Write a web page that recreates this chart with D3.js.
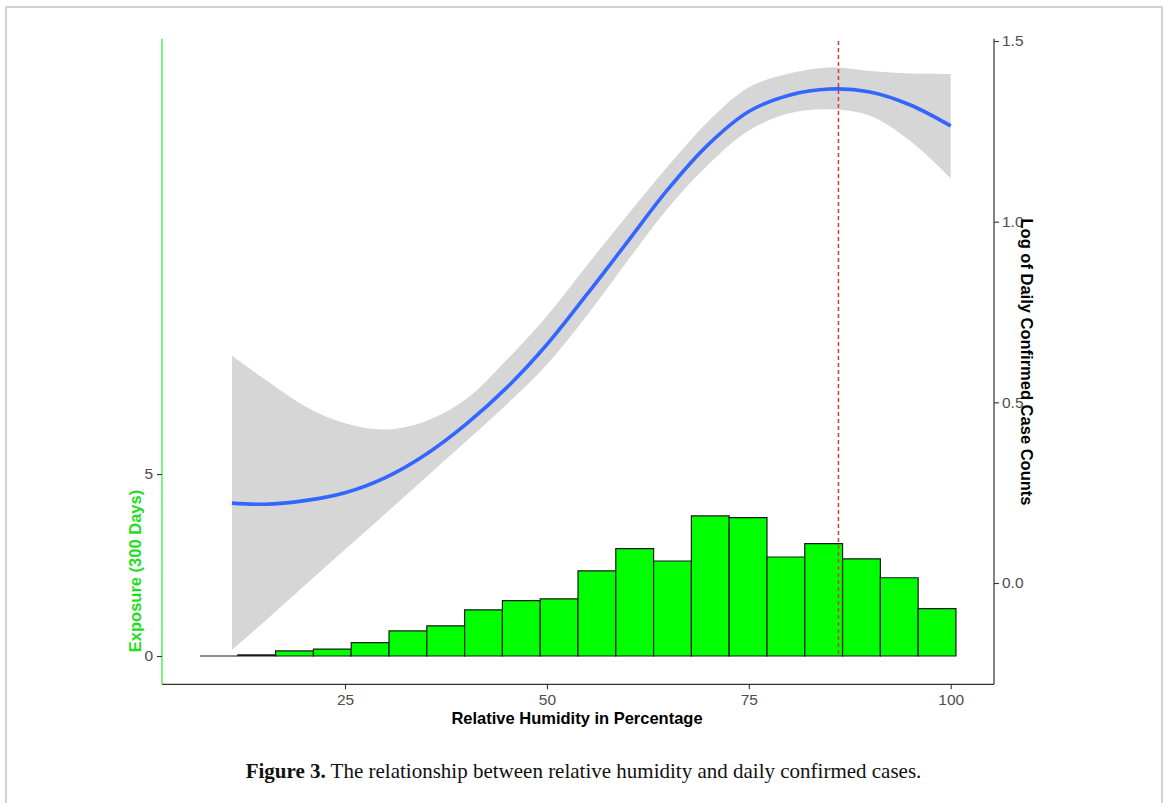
<!DOCTYPE html>
<html>
<head>
<meta charset="utf-8">
<script src="https://cdn.jsdelivr.net/npm/d3@7"></script>
<style>
  html, body { margin: 0; padding: 0; background: #fff; }
  svg { display: block; }
</style>
</head>
<body>
<svg id="chart" width="1168" height="803"></svg>
<script>
// Histogram of exposure days by relative humidity (left axis)
const binStart = 7.05;
const binWidth = 4.68;
const exposure = [0, 0.03, 0.14, 0.19, 0.37, 0.69, 0.83, 1.27, 1.52, 1.57,
                  2.34, 2.95, 2.61, 3.85, 3.80, 2.72, 3.09, 2.67, 2.15, 1.30];

// Smoothed fit of log daily confirmed cases (right axis) with its band
const humidity = [11, 15, 20, 25, 30, 35, 40, 45, 50, 55, 60, 65, 70, 75, 80, 85, 90, 95, 100];
const fitValue = [0.221, 0.218, 0.228, 0.250, 0.292, 0.356, 0.440, 0.540, 0.660, 0.800,
                  0.945, 1.090, 1.214, 1.305, 1.350, 1.367, 1.359, 1.323, 1.265];
const bandUpper = [0.629, 0.565, 0.490, 0.442, 0.425, 0.448, 0.509, 0.617, 0.739, 0.880,
                   1.019, 1.154, 1.278, 1.372, 1.410, 1.427, 1.417, 1.410, 1.409];
const bandLower = [-0.185, -0.107, -0.007, 0.093, 0.192, 0.292, 0.392, 0.494, 0.605, 0.742,
                   0.892, 1.038, 1.158, 1.252, 1.300, 1.311, 1.293, 1.223, 1.120];

// Humidity at the peak of the fit
const peakHumidity = 86.1;

const xTicks = [25, 50, 75, 100];
const leftTicks = [0, 5];
const rightTicks = [0.0, 0.5, 1.0, 1.5];

const svg = d3.select("#chart");

// Figure frame
svg.append("rect")
  .attr("x", 6).attr("y", 7).attr("width", 1156).attr("height", 830)
  .attr("fill", "none").attr("stroke", "#c8c8c8").attr("stroke-width", 1.6);

const plot = { left: 162, right: 994, top: 38.7, bottom: 684.3 };

const x = d3.scaleLinear().domain([2.34, 105.36]).range([plot.left, plot.right]);
const yL = d3.scaleLinear().domain([-0.777, 16.96]).range([plot.bottom, plot.top]);
const yR = d3.scaleLinear().domain([-0.2803, 1.5064]).range([plot.bottom, plot.top]);

const fitData = humidity.map((h, i) => ({ h, v: fitValue[i], lo: bandLower[i], hi: bandUpper[i] }));
const smooth = d3.curveCatmullRom.alpha(0.5);

// Confidence band
svg.append("path")
  .datum(fitData)
  .attr("fill", "#d6d6d6")
  .attr("d", d3.area()
    .x(d => x(d.h))
    .y0(d => yR(d.lo))
    .y1(d => yR(d.hi))
    .curve(smooth));

// Histogram bars (drawn as outlines so empty bins still show a base line)
const bins = exposure.map((c, i) => ({ x0: binStart + i * binWidth, x1: binStart + (i + 1) * binWidth, c }));
svg.append("g")
  .selectAll("path")
  .data(bins)
  .join("path")
  .attr("d", d => {
    const l = x(d.x0), r = x(d.x1), b = yL(0), t = yL(d.c);
    return `M${l},${b}V${t}H${r}V${b}Z`;
  })
  .attr("fill", "#00ff00")
  .attr("stroke", "#1a1a1a")
  .attr("stroke-width", 1.2);

// Fitted line
svg.append("path")
  .datum(fitData)
  .attr("fill", "none")
  .attr("stroke", "#3366ff")
  .attr("stroke-width", 3.6)
  .attr("d", d3.line()
    .x(d => x(d.h))
    .y(d => yR(d.v))
    .curve(smooth));

// Peak marker
svg.append("line")
  .attr("x1", x(peakHumidity)).attr("x2", x(peakHumidity))
  .attr("y1", yR(1.5)).attr("y2", yL(0))
  .attr("stroke", "#d8393c")
  .attr("stroke-width", 1.5)
  .attr("stroke-dasharray", "4,3");

const sans = "'Liberation Sans', Arial, sans-serif";

// Bottom axis
const xAxis = svg.append("g")
  .attr("transform", `translate(0,${plot.bottom})`)
  .call(d3.axisBottom(x).tickValues(xTicks).tickSize(5).tickPadding(5).tickFormat(d3.format("d")));
xAxis.select(".domain").attr("stroke", "#333").attr("stroke-width", 1.2)
  .attr("d", `M${plot.left},0H${plot.right}`);
xAxis.selectAll(".tick line").attr("stroke", "#333").attr("stroke-width", 1.1);
xAxis.selectAll(".tick text").attr("fill", "#4d4d4d").style("font", `15.5px ${sans}`);

// Left axis (exposure)
const leftAxis = svg.append("g")
  .attr("transform", `translate(${plot.left},0)`)
  .call(d3.axisLeft(yL).tickValues(leftTicks).tickSize(5).tickPadding(4).tickFormat(d3.format("d")));
leftAxis.select(".domain").attr("stroke", "#22ee22").attr("stroke-width", 1.2)
  .attr("d", `M0,${plot.top}V${plot.bottom}`);
leftAxis.selectAll(".tick line").attr("stroke", "#333").attr("stroke-width", 1.1);
leftAxis.selectAll(".tick text").attr("fill", "#4d4d4d").style("font", `15.5px ${sans}`);

// Right axis (log of daily cases)
const rightAxis = svg.append("g")
  .attr("transform", `translate(${plot.right},0)`)
  .call(d3.axisRight(yR).tickValues(rightTicks).tickSize(5).tickPadding(3).tickFormat(d3.format(".1f")));
rightAxis.select(".domain").attr("stroke", "#333").attr("stroke-width", 1.2)
  .attr("d", `M0,${plot.top}V${plot.bottom}`);
rightAxis.selectAll(".tick line").attr("stroke", "#333").attr("stroke-width", 1.1);
rightAxis.selectAll(".tick text").attr("fill", "#4d4d4d").style("font", `15.5px ${sans}`);

// Axis titles
svg.append("text")
  .attr("x", 577)
  .attr("y", 724)
  .attr("text-anchor", "middle")
  .attr("fill", "#000")
  .style("font", `bold 16.5px ${sans}`)
  .text("Relative Humidity in Percentage");

svg.append("text")
  .attr("transform", `translate(141,571) rotate(-90)`)
  .attr("text-anchor", "middle")
  .attr("fill", "#22dd22")
  .style("font", `bold 16.5px ${sans}`)
  .text("Exposure (300 Days)");

svg.append("text")
  .attr("transform", `translate(1021,362) rotate(90)`)
  .attr("text-anchor", "middle")
  .attr("fill", "#000")
  .style("font", `bold 16.5px ${sans}`)
  .text("Log of Daily Confirmed Case Counts");

// Caption
const caption = svg.append("text")
  .attr("x", 583.5)
  .attr("y", 778)
  .attr("text-anchor", "middle")
  .attr("fill", "#111")
  .style("font", "21px 'Liberation Serif', 'Times New Roman', serif");
caption.append("tspan").attr("font-weight", "bold").text("Figure 3.");
caption.append("tspan").text(" The relationship between relative humidity and daily confirmed cases.");
</script>
</body>
</html>
